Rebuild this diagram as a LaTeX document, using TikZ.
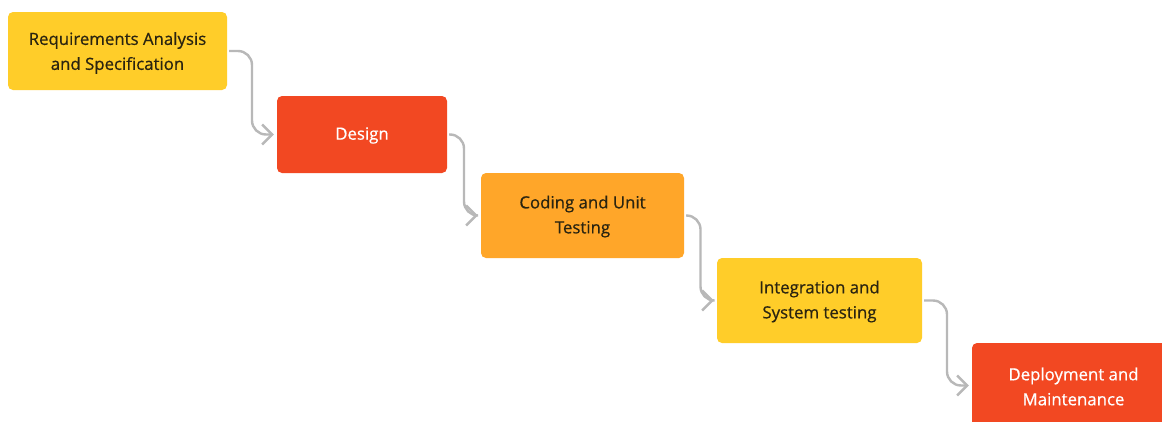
\documentclass[tikz,border=0pt]{standalone}
\usepackage{fontspec}
\setmainfont{Open Sans}
\newfontfamily\stagefont{Open Sans}[FakeBold=0.6]
\usetikzlibrary{arrows.meta,calc}

\definecolor{stageyellow}{HTML}{FFCD29}
\definecolor{stagered}{HTML}{F24822}
\definecolor{stageorange}{HTML}{FFA629}
\definecolor{linkgray}{HTML}{B8B8B8}
\definecolor{darktext}{HTML}{2A2410}

\tikzset{
  stage/.style={rounded corners=5pt, inner sep=0pt},
  caption/.style={inner sep=0pt, align=center,
    font=\stagefont\fontsize{16.8}{25}\selectfont},
  lightcap/.style={caption, text=darktext},
  darkcap/.style={caption, text=white},
  link/.style={draw=linkgray, line width=2.4pt, rounded corners=14pt,
    shorten <=2pt, shorten >=3pt,
    -{Straight Barb[length=10pt,width=20pt,line width=2.4pt]}},
}

\begin{document}
\begin{tikzpicture}[x=1pt,y=-1pt]
  \useasboundingbox (0,0) rectangle (1162,421);
  \clip (0,0) rectangle (1162,421);
  \fill[white] (0,0) rectangle (1162,421);

  % stage boxes
  \node[stage, fill=stageyellow, minimum width=219pt, minimum height=78pt]
    (req) at (117.5,51) {};
  \node[stage, fill=stagered, minimum width=170pt, minimum height=77pt]
    (des) at (362,134.5) {};
  \node[stage, fill=stageorange, minimum width=203pt, minimum height=85pt]
    (cod) at (582.5,215.5) {};
  \node[stage, fill=stageyellow, minimum width=205pt, minimum height=85pt]
    (int) at (819.5,300.5) {};
  \node[stage, fill=stagered, minimum width=203pt, minimum height=85pt]
    (dep) at (1073.5,385.5) {};

  % stage captions, set a little below the box centres
  \node[lightcap] (req-t) at ([yshift=-2pt]req.center) {Requirements Analysis\\and Specification};
  \node[darkcap]  (des-t) at ([yshift=-1pt]des.center) {Design};
  \node[lightcap] (cod-t) at ([yshift=-1pt]cod.center) {Coding and Unit\\Testing};
  \node[lightcap] (int-t) at ([yshift=-1pt]int.center) {Integration and\\System testing};
  \node[darkcap]  (dep-t) at ([yshift=-1pt]dep.center) {Deployment and\\Maintenance};

  % flow between stages
  \draw[link] (req.east) -| ($(req.east)!0.5!(des.west)$) |- (des.west);
  \draw[link] (des.east) -| ($(des.east)!0.5!(cod.west)$) |- (cod.west);
  \draw[link] (cod.east) -| ($(cod.east)!0.5!(int.west)$) |- (int.west);
  \draw[link] (int.east) -| ($(int.east)!0.5!(dep.west)$) |- (dep.west);
\end{tikzpicture}
\end{document}
